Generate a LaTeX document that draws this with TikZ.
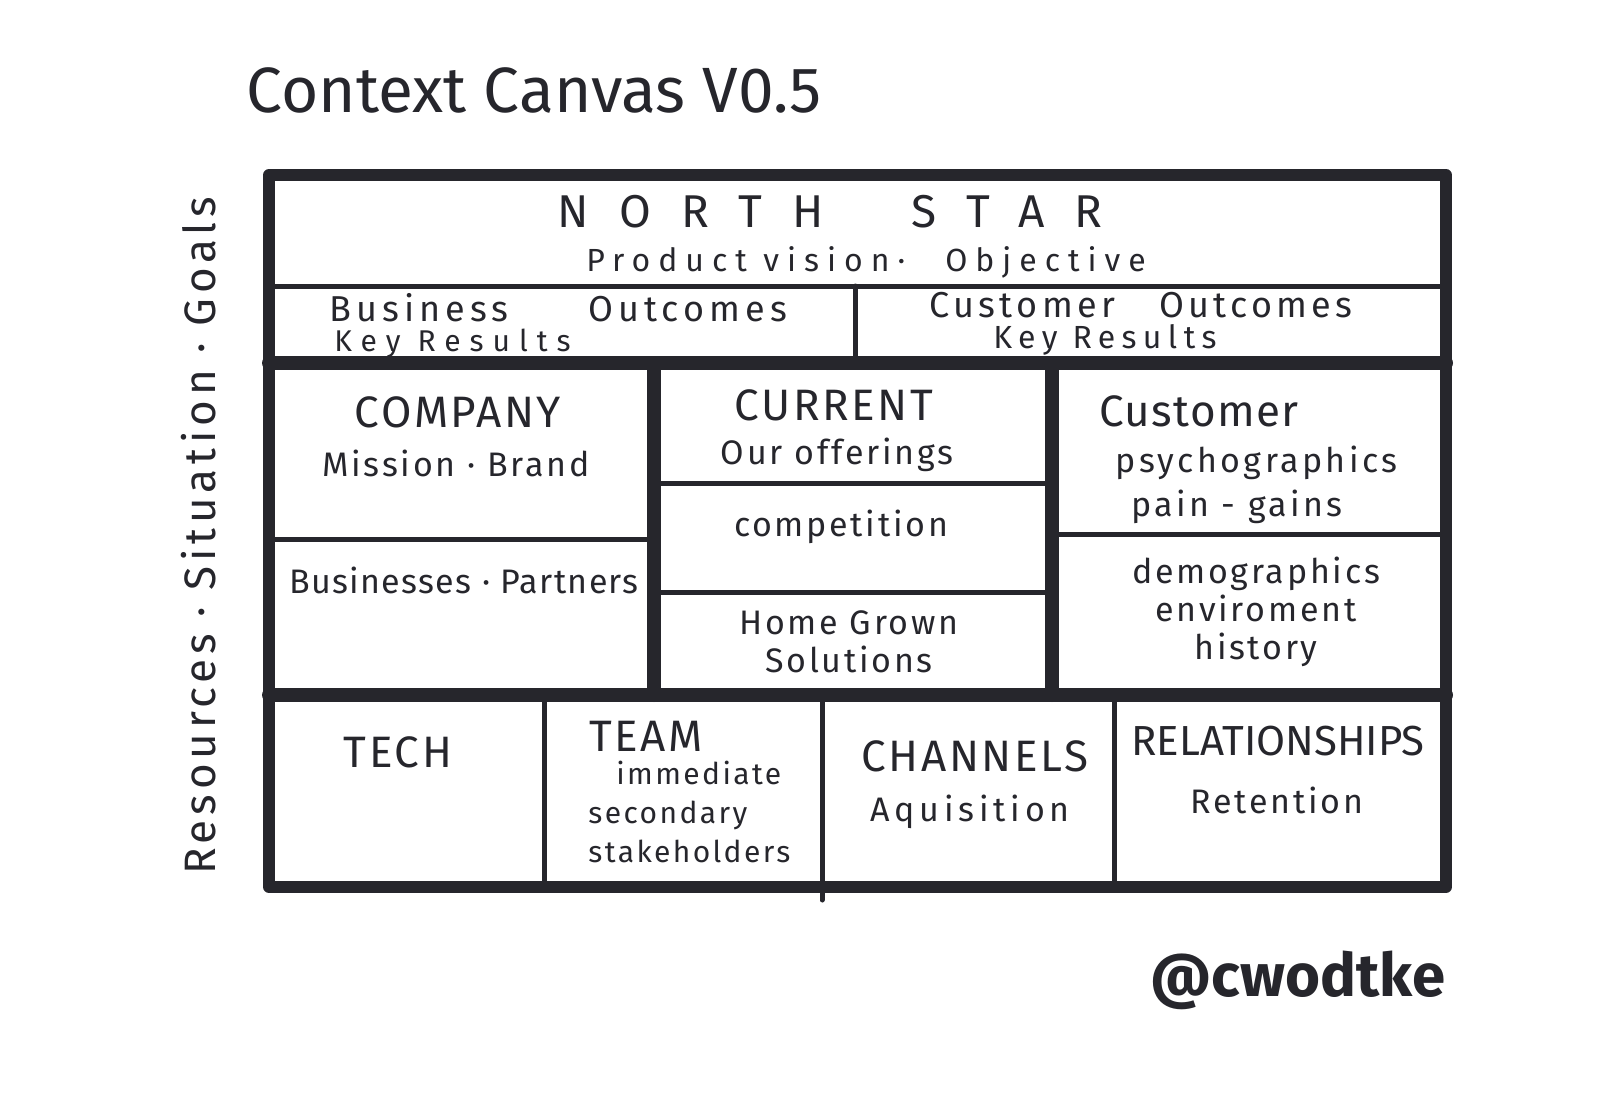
\documentclass[tikz,border=0pt]{standalone}
\usepackage{fontspec}
\setmainfont{Fira Sans}
\definecolor{Ink}{RGB}{38,38,44}
\begin{document}
\begin{tikzpicture}[x=0.5pt,y=-0.5pt,
frame/.style={draw=Ink,line width=6pt,line cap=round,line join=round},
heavy/.style={draw=Ink,line width=7pt,line cap=round},
light/.style={draw=Ink,line width=2.5pt,line cap=round},
head/.style={text=Ink,inner sep=0pt,font=\fontsize{22}{24}\selectfont\addfontfeature{LetterSpace=6}},
note/.style={text=Ink,inner sep=0pt,align=center,font=\fontsize{17}{19}\selectfont\addfontfeature{LetterSpace=8}}
]
\useasboundingbox (0,0) rectangle (1600,1108);
% title and side label
\node[text=Ink,font=\fontsize{32}{34}\selectfont] (title) at (534,90) {Context Canvas V0.5};
\node[note,rotate=90,font=\fontsize{22}{24}\selectfont\addfontfeature{LetterSpace=11}] (side) at (199,536) {Resources · Situation · Goals};
% frame and dividers
\draw[frame] (269,175) rectangle (1446,887);
\draw[light] (269,286) -- (1446,286);
\draw[heavy] (269,363) -- (1446,363);
\draw[light] (855,286) -- (855,363);
\draw[heavy] (654,363) -- (654,695);
\draw[heavy] (1052,363) -- (1052,695);
\draw[heavy] (269,695) -- (1446,695);
\draw[light] (269,539) -- (654,539);
\draw[light] (654,483) -- (1052,483);
\draw[light] (654,592) -- (1052,592);
\draw[light] (1052,534) -- (1446,534);
\draw[light] (544,695) -- (544,887);
\draw[light] (822,695) -- (822,900);
\draw[light] (1114,695) -- (1114,887);
% north star and outcomes
\node[head,font=\fontsize{23}{25}\selectfont\addfontfeature{LetterSpace=66}] (star) at (830,212) {NORTH\hspace{44pt}STAR};
\node[note,font=\fontsize{16}{18}\selectfont\addfontfeature{LetterSpace=25}] (vision) at (866,262) {Product vision·\hspace{20pt}Objective};
\node[note,anchor=west,font=\fontsize{18}{20}\selectfont\addfontfeature{LetterSpace=14}] (bizout) at (329,308) {Business\hspace{40pt}Outcomes};
\node[note,anchor=west,font=\fontsize{15}{17}\selectfont\addfontfeature{LetterSpace=30}] (bizkr) at (334,343) {Key Results};
\node[note,font=\fontsize{18}{20}\selectfont\addfontfeature{LetterSpace=12}] (custout) at (1141,305) {Customer\hspace{22pt}Outcomes};
\node[note,font=\fontsize{16}{18}\selectfont\addfontfeature{LetterSpace=20}] (custkr) at (1105,340) {Key Results};
% middle row
\node[head] (company) at (458,412) {COMPANY};
\node[note] (mission) at (456,463) {Mission · Brand};
\node[note,font=\fontsize{17}{19}\selectfont\addfontfeature{LetterSpace=4}] (partners) at (464,580) {Businesses · Partners};
\node[head] (current) at (834,405) {CURRENT};
\node[note] (offer) at (837,455) {Our offerings};
\node[note] (compete) at (841,527) {competition};
\node[note] (home) at (849,642) {Home Grown\\Solutions};
\node[head,font=\fontsize{22}{24}\selectfont\addfontfeature{LetterSpace=3}] (customer) at (1199,411) {Customer};
\node[note,align=left,anchor=west,font=\fontsize{17}{22}\selectfont\addfontfeature{LetterSpace=10}] (psycho) at (1115,485) {psychographics\\\hspace{8pt}pain - gains};
\node[note] (demo) at (1256,612) {demographics\\enviroment\\history};
% bottom row
\node[head] (tech) at (398,752) {TECH};
\node[head] (team) at (646,736) {TEAM};
\node[note,align=left,anchor=west,font=\fontsize{15}{19.5}\selectfont\addfontfeature{LetterSpace=8}] (people) at (588,812) {\hspace{14pt}immediate\\secondary\\stakeholders};
\node[head] (channels) at (975,756) {CHANNELS};
\node[note,font=\fontsize{17}{19}\selectfont\addfontfeature{LetterSpace=14}] (acquire) at (970,812) {Aquisition};
\node[head,font=\fontsize{21}{23}\selectfont\addfontfeature{LetterSpace=0}] (relate) at (1278,741) {RELATIONSHIPS};
\node[note] (retain) at (1277,800) {Retention};
% signature
\node[text=Ink,font=\fontsize{30}{32}\selectfont\bfseries] (sign) at (1298,980) {@cwodtke};
\end{tikzpicture}
\end{document}
